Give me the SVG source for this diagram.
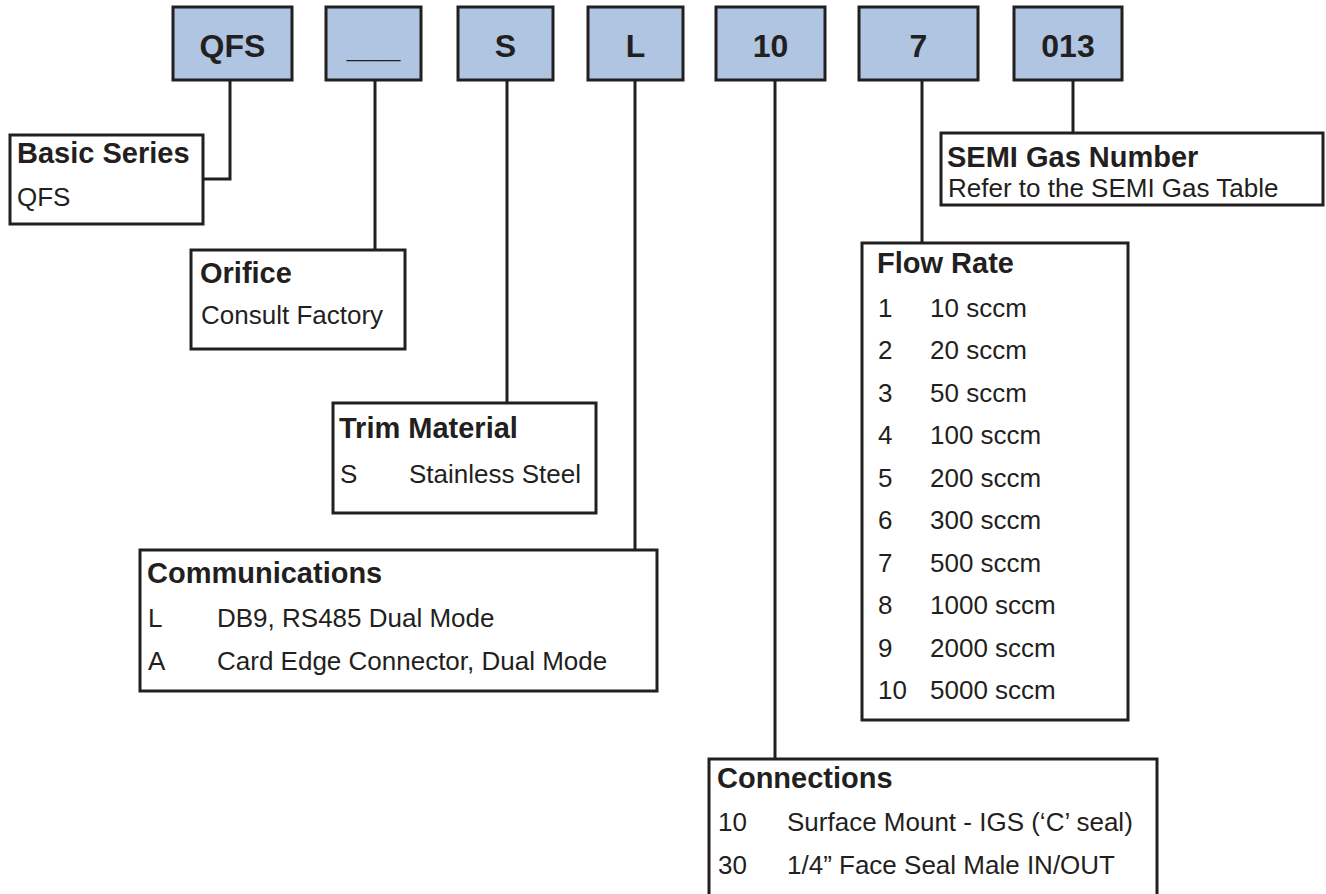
<svg xmlns="http://www.w3.org/2000/svg" width="1326" height="894" viewBox="0 0 1326 894">
<style>
.code{fill:#b0c5e1;stroke:#231f20;stroke-width:3}
.box{fill:#ffffff;stroke:#231f20;stroke-width:3}
.lbl{font-family:"Liberation Sans",Arial,sans-serif;font-weight:bold;font-size:32px;fill:#231f20;text-anchor:middle}
.hd{font-family:"Liberation Sans",Arial,sans-serif;font-weight:bold;font-size:29px;fill:#231f20}
.tx{font-family:"Liberation Sans",Arial,sans-serif;font-size:26px;fill:#231f20}
.ln{fill:none;stroke:#231f20;stroke-width:3}
</style>
<rect width="1326" height="894" fill="#ffffff"/>
<g id="connectors">
<polyline class="ln" points="230,80 230,179 203,179"/>
<line class="ln" x1="375" y1="80" x2="375" y2="250"/>
<line class="ln" x1="507" y1="80" x2="507" y2="403"/>
<line class="ln" x1="635" y1="80" x2="635" y2="550"/>
<line class="ln" x1="775" y1="80" x2="775" y2="759"/>
<line class="ln" x1="922" y1="80" x2="922" y2="243"/>
<line class="ln" x1="1073" y1="80" x2="1073" y2="133"/>
</g>
<g id="code-qfs"><rect class="code" x="173" y="7" width="119" height="73"/><text class="lbl" x="232.5" y="57">QFS</text></g>
<g id="code-orifice"><rect class="code" x="326" y="7" width="95" height="73"/><text class="lbl" x="373.5" y="57">___</text></g>
<g id="code-s"><rect class="code" x="458" y="7" width="95" height="73"/><text class="lbl" x="505.5" y="57">S</text></g>
<g id="code-l"><rect class="code" x="588" y="7" width="95" height="73"/><text class="lbl" x="635.5" y="57">L</text></g>
<g id="code-10"><rect class="code" x="716" y="7" width="109" height="73"/><text class="lbl" x="770.5" y="57">10</text></g>
<g id="code-7"><rect class="code" x="859" y="7" width="119" height="73"/><text class="lbl" x="918.5" y="57">7</text></g>
<g id="code-013"><rect class="code" x="1014" y="7" width="108" height="73"/><text class="lbl" x="1068" y="57">013</text></g>
<g id="basic-series"><rect class="box" x="10" y="135" width="193" height="89"/>
<text class="hd" x="17" y="163">Basic Series</text>
<text class="tx" x="17" y="206">QFS</text></g>
<g id="orifice"><rect class="box" x="191" y="250" width="214" height="99"/>
<text class="hd" x="200" y="283">Orifice</text>
<text class="tx" x="201" y="324">Consult Factory</text></g>
<g id="trim-material"><rect class="box" x="333" y="403" width="263" height="110"/>
<text class="hd" x="339" y="438">Trim Material</text>
<text class="tx" x="340" y="483">S</text><text class="tx" x="409" y="483">Stainless Steel</text></g>
<g id="communications"><rect class="box" x="140" y="550" width="517" height="141"/>
<text class="hd" x="147" y="583">Communications</text>
<text class="tx" x="148" y="627">L</text><text class="tx" x="217" y="627">DB9, RS485 Dual Mode</text>
<text class="tx" x="148" y="670">A</text><text class="tx" x="217" y="670">Card Edge Connector, Dual Mode</text></g>
<g id="semi-gas"><rect class="box" x="941" y="133" width="382" height="72"/>
<text class="hd" x="947" y="167">SEMI Gas Number</text>
<text class="tx" x="948" y="197">Refer to the SEMI Gas Table</text></g>
<g id="flow-rate"><rect class="box" x="862" y="243" width="266" height="477"/>
<text class="hd" x="877" y="273">Flow Rate</text>
<text class="tx" x="878" y="317">1</text><text class="tx" x="930" y="317">10 sccm</text>
<text class="tx" x="878" y="359">2</text><text class="tx" x="930" y="359">20 sccm</text>
<text class="tx" x="878" y="402">3</text><text class="tx" x="930" y="402">50 sccm</text>
<text class="tx" x="878" y="444">4</text><text class="tx" x="930" y="444">100 sccm</text>
<text class="tx" x="878" y="487">5</text><text class="tx" x="930" y="487">200 sccm</text>
<text class="tx" x="878" y="529">6</text><text class="tx" x="930" y="529">300 sccm</text>
<text class="tx" x="878" y="572">7</text><text class="tx" x="930" y="572">500 sccm</text>
<text class="tx" x="878" y="614">8</text><text class="tx" x="930" y="614">1000 sccm</text>
<text class="tx" x="878" y="657">9</text><text class="tx" x="930" y="657">2000 sccm</text>
<text class="tx" x="878" y="699">10</text><text class="tx" x="930" y="699">5000 sccm</text></g>
<g id="connections"><rect class="box" x="709" y="759" width="448" height="150"/>
<text class="hd" x="717" y="788">Connections</text>
<text class="tx" x="718" y="831">10</text><text class="tx" x="787" y="831">Surface Mount - IGS (‘C’ seal)</text>
<text class="tx" x="718" y="874">30</text><text class="tx" x="787" y="874">1/4” Face Seal Male IN/OUT</text></g>
</svg>
